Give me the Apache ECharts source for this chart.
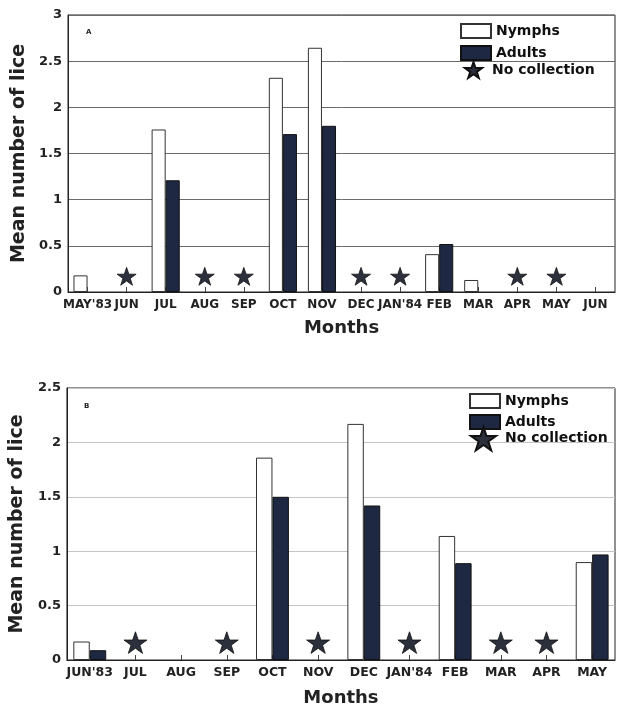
<!DOCTYPE html>
<html>
<head>
<meta charset="utf-8">
<script src="https://cdn.jsdelivr.net/npm/echarts@6/dist/echarts.min.js"></script>
<style>
  html, body { margin: 0; padding: 0; background: #fff; }
  #a { width: 620px; height: 356px; }
  #b { width: 620px; height: 356px; }
</style>
</head>
<body>
<div id="a"></div>
<div id="b"></div>
<script>
// ---- Panel A data ----
const monthsA = ["MAY'83", "JUN", "JUL", "AUG", "SEP", "OCT", "NOV", "DEC", "JAN'84", "FEB", "MAR", "APR", "MAY", "JUN"];
const nymphsA = [0.18, null, 1.76, null, null, 2.32, 2.645, null, null, 0.41, 0.13, null, null, null];
const adultsA = [null, null, 1.21, null, null, 1.71, 1.80, null, null, 0.52, null, null, null, null];
const noCollA = [null, 0.17, null, 0.17, 0.17, null, null, 0.17, 0.17, null, null, 0.17, 0.17, null];

// ---- Panel B data ----
const monthsB = ["JUN'83", "JUL", "AUG", "SEP", "OCT", "NOV", "DEC", "JAN'84", "FEB", "MAR", "APR", "MAY"];
const nymphsB = [0.17, null, null, null, 1.86, null, 2.17, null, 1.14, null, null, 0.90];
const adultsB = [0.09, null, null, null, 1.50, null, 1.42, null, 0.89, null, null, 0.97];
const noCollB = [null, 0.16, null, 0.16, null, 0.16, null, 0.16, null, 0.16, 0.16, null];

const yTicksA = { max: 3, interval: 0.5 };
const yTicksB = { max: 2.5, interval: 0.5 };

const STAR = 'path://M50,0 L61.8,35.1 L98.9,35.1 L68.9,56.8 L80.3,91.9 L50,70.2 L19.7,91.9 L31.1,56.8 L1.1,35.1 L38.2,35.1 Z';
const FONT = 'DejaVu Sans';
const ADULT = '#1f2843';
const STARC = '#2c303d';

function build(cfg) {
  return {
    animation: false,
    backgroundColor: '#fff',
    textStyle: { fontFamily: FONT },
    grid: {
      left: cfg.grid.left, right: cfg.grid.right, top: cfg.grid.top, bottom: cfg.grid.bottom,
      show: true, borderColor: '#222', borderWidth: 1, backgroundColor: 'transparent'
    },
    legend: [
      {
        data: [{ name: 'Nymphs', icon: 'rect' }, { name: 'Adults', icon: 'rect' }],
        orient: 'vertical',
        left: cfg.leg.left, top: cfg.leg.top,
        itemWidth: 30, itemHeight: 14, itemGap: cfg.leg.gap,
        selectedMode: false,
        textStyle: { fontFamily: FONT, fontWeight: 'bold', fontSize: 14, color: '#111', lineHeight: 14 }
      },
      {
        data: ['No collection'],
        orient: 'vertical',
        left: cfg.leg2.left, top: cfg.leg2.top,
        itemWidth: cfg.leg2.size, itemHeight: cfg.leg2.size,
        selectedMode: false,
        textStyle: { fontFamily: FONT, fontWeight: 'bold', fontSize: 14, color: '#111', lineHeight: 14,
          padding: [cfg.leg2.tpadTop, 0, 0, cfg.leg2.tpad] }
      }
    ],
    graphic: [{
      type: 'text', left: cfg.panel.x, top: cfg.panel.y,
      style: { text: cfg.panel.text, fontFamily: FONT, fontWeight: 'bold', fontSize: 7, fill: '#222' }
    }],
    xAxis: {
      type: 'category',
      data: cfg.months,
      boundaryGap: true,
      name: 'Months',
      nameLocation: 'middle',
      nameGap: cfg.xNameGap,
      nameTextStyle: { fontFamily: FONT, fontWeight: 'bold', fontSize: 18, color: '#222' },
      axisLine: { lineStyle: { color: '#222', width: 1 } },
      axisTick: { show: true, inside: true, alignWithLabel: true, length: 5, lineStyle: { color: '#444' } },
      axisLabel: { interval: 0, margin: cfg.xLabMargin, fontFamily: FONT, fontWeight: 'bold', fontSize: cfg.xLabSize, color: '#222' },
      splitLine: { show: false }
    },
    yAxis: {
      type: 'value',
      min: 0, max: cfg.yTicks.max, interval: cfg.yTicks.interval,
      name: 'Mean number of lice',
      nameLocation: 'middle',
      nameGap: cfg.yNameGap,
      nameTextStyle: { fontFamily: FONT, fontWeight: 'bold', fontSize: 19, color: '#222' },
      axisLine: { show: true, lineStyle: { color: '#222', width: 1 } },
      axisTick: { show: false },
      axisLabel: { margin: 6, fontFamily: FONT, fontWeight: 'bold', fontSize: 13, color: '#222' },
      splitLine: { show: true, lineStyle: { color: cfg.gridColor, width: 1 } }
    },
    series: [
      {
        name: 'Nymphs', type: 'bar', data: cfg.nymphs,
        barWidth: '36%', barGap: '0%',
        itemStyle: { color: '#ffffff', borderColor: '#333', borderWidth: 1 }
      },
      {
        name: 'Adults', type: 'bar', data: cfg.adults,
        barWidth: '36%', barGap: '0%',
        itemStyle: { color: ADULT, borderColor: '#111', borderWidth: 1 }
      },
      {
        name: 'No collection', type: 'scatter', data: cfg.noColl,
        symbol: STAR, symbolSize: cfg.starSize, symbolKeepAspect: true,
        itemStyle: { color: STARC, borderColor: '#111', borderWidth: 0.8, opacity: 1 },
        z: 5
      }
    ]
  };
}

const chartA = echarts.init(document.getElementById('a'), null, { renderer: 'canvas' });
chartA.setOption(build({
  months: monthsA, nymphs: nymphsA, adults: adultsA, noColl: noCollA,
  yTicks: yTicksA,
  grid: { left: 68, right: 5, top: 15, bottom: 64 },
  leg: { left: 455, top: 18, gap: 6 },
  leg2: { left: 459, top: 56, size: 17, tpad: 5, tpadTop: 0 },
  panel: { x: 86, y: 29, text: 'A' },
  xNameGap: 27, xLabMargin: 7, xLabSize: 12,
  yNameGap: 38, gridColor: '#6a6a6a', starSize: 19
}));

const chartB = echarts.init(document.getElementById('b'), null, { renderer: 'canvas' });
chartB.setOption(build({
  months: monthsB, nymphs: nymphsB, adults: adultsB, noColl: noCollB,
  yTicks: yTicksB,
  grid: { left: 66, right: 5, top: 32, bottom: 47 },
  leg: { left: 464, top: 32, gap: 5 },
  leg2: { left: 465, top: 65, size: 25, tpad: 4, tpadTop: 0 },
  panel: { x: 84, y: 47, text: 'B' },
  xNameGap: 29, xLabMargin: 6, xLabSize: 12.5,
  yNameGap: 36, gridColor: '#c4c4c4', starSize: 23
}));
</script>
</body>
</html>
